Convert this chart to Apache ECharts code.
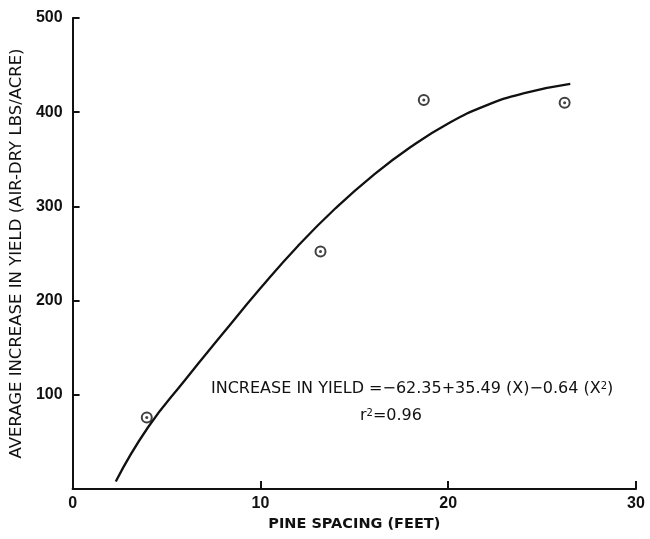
<!DOCTYPE html>
<html>
<head>
<meta charset="utf-8">
<script src="https://cdn.jsdelivr.net/npm/echarts@6/dist/echarts.min.js"></script>
<style>
  html, body { margin: 0; padding: 0; background: #fff; }
  #chart { width: 650px; height: 539px; }
</style>
</head>
<body>
<div id="chart"></div>
<script>
// observed means (spacing in feet, yield increase lbs/acre)
const spacing = [3.95, 13.2, 18.7, 26.2];
const yieldIncrease = [76, 252, 413, 410];

// fitted curve
const curveX = [2.3, 4, 6, 8, 10, 12, 14, 16, 18, 20, 22, 24, 26.5];
const curveY = [8, 65, 116, 165, 213, 258, 298, 333, 363, 388, 407, 420, 430];

const xTicks = [0, 10, 20, 30];
const yTicks = [100, 200, 300, 400, 500];

const font = "Liberation Sans";
const wide = "DejaVu Sans";
const ink = "#111";

const chart = echarts.init(document.getElementById("chart"));

const points = spacing.map((x, i) => [x, yieldIncrease[i]]);
const curve = curveX.map((x, i) => [x, curveY[i]]);

const supStyle = { fontSize: 10, fontFamily: wide, verticalAlign: "top", lineHeight: 8 };

chart.setOption({
    animation: false,
    backgroundColor: "#fff",
    grid: { left: 72, right: 14, top: 18, bottom: 50 },
    xAxis: {
        type: "value",
        min: xTicks[0],
        max: xTicks[xTicks.length - 1],
        interval: 10,
        name: "PINE SPACING (FEET)",
        nameLocation: "middle",
        nameGap: 23,
        nameTextStyle: { color: ink, fontFamily: wide, fontSize: 14.5, fontWeight: "bold" },
        axisLine: { lineStyle: { color: ink, width: 2 } },
        axisTick: { inside: true, length: 8, lineStyle: { color: ink, width: 2 } },
        axisLabel: { color: ink, fontFamily: font, fontSize: 16, fontWeight: "bold", margin: 7 },
        splitLine: { show: false }
    },
    yAxis: {
        type: "value",
        min: 0,
        max: yTicks[yTicks.length - 1],
        interval: 100,
        name: "AVERAGE INCREASE IN YIELD (AIR-DRY LBS/ACRE)",
        nameLocation: "middle",
        nameGap: 44,
        nameTextStyle: { color: ink, fontFamily: wide, fontSize: 16.5, fontWeight: "normal" },
        axisLine: { lineStyle: { color: ink, width: 2 } },
        axisTick: { inside: true, length: 7, lineStyle: { color: ink, width: 2 } },
        axisLabel: {
            color: ink, fontFamily: font, fontSize: 16, fontWeight: "bold", margin: 10,
            formatter: (v) => (yTicks.includes(v) ? String(v) : "")
        },
        splitLine: { show: false }
    },
    graphic: [
        {
            type: "text",
            left: 211,
            top: 381,
            style: {
                text: "INCREASE IN YIELD =\u221262.35+35.49 (X)\u22120.64 (X{sup|2})",
                fill: ink,
                font: "16px " + wide,
                rich: { sup: supStyle }
            }
        },
        {
            type: "text",
            left: 360,
            top: 408,
            style: {
                text: "r{sup|2}=0.96",
                fill: ink,
                font: "16px " + wide,
                rich: { sup: supStyle }
            }
        }
    ],
    series: [
        {
            type: "line",
            data: curve,
            smooth: true,
            showSymbol: false,
            lineStyle: { color: ink, width: 2.3 },
            z: 2
        },
        {
            type: "scatter",
            data: points,
            symbol: "emptyCircle",
            symbolSize: 10,
            itemStyle: { color: ink, borderColor: ink, borderWidth: 1.6 },
            z: 3
        },
        {
            type: "scatter",
            data: points,
            symbol: "circle",
            symbolSize: 3,
            itemStyle: { color: ink },
            z: 4
        }
    ]
});
</script>
</body>
</html>
